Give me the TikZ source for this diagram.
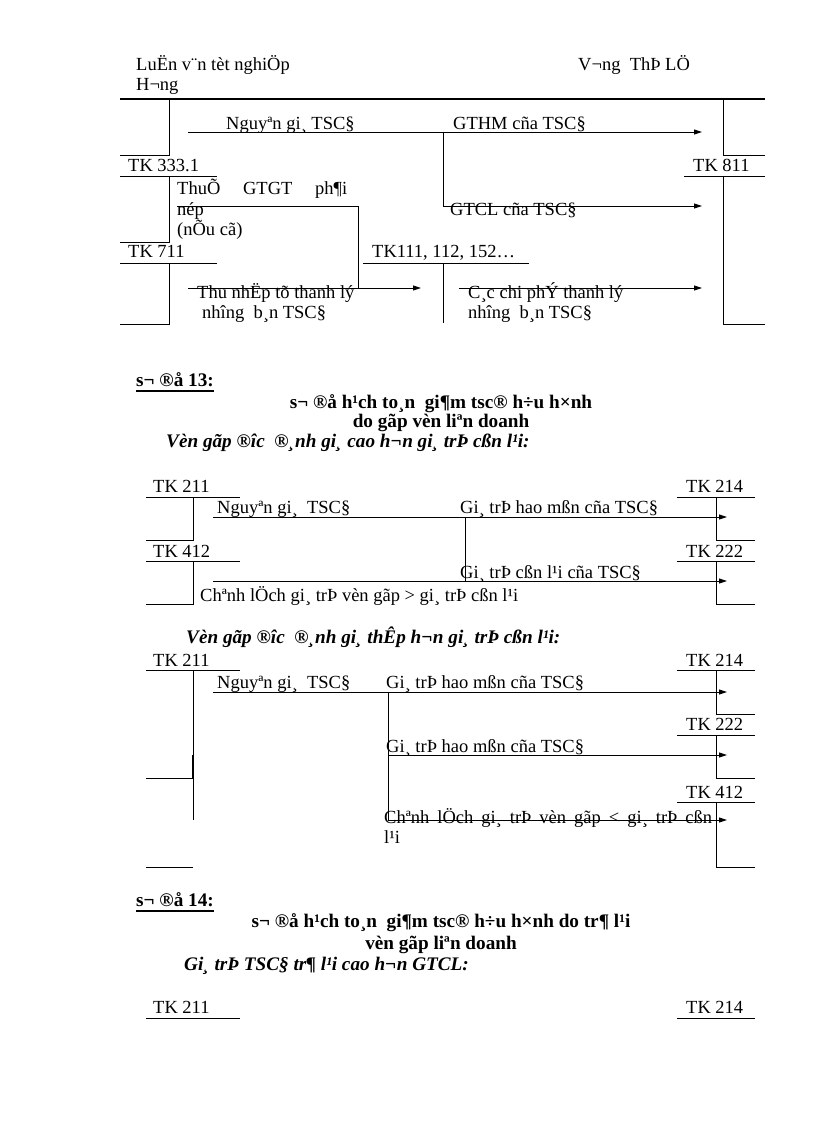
\documentclass[tikz,border=0pt]{standalone}
\usepackage{fontspec}
\setmainfont{Liberation Serif}
\usetikzlibrary{arrows.meta}
\begin{document}
\begin{tikzpicture}[x=1pt,y=-1pt,
  ln/.style={line width=0.9pt},
  arr/.style={line width=0.9pt,-{Triangle[length=8pt,width=5pt]}},
  txt/.style={anchor=base west,inner sep=0pt,font=\fontsize{18.5}{20.5}\selectfont},
  btxt/.style={anchor=base,inner sep=0pt,font=\fontsize{19.2}{21}\selectfont\bfseries},
  bitxt/.style={anchor=base west,inner sep=0pt,font=\fontsize{19.2}{21}\selectfont\bfseries\itshape},
  hdtxt/.style={anchor=base west,inner sep=0pt,font=\fontsize{19.2}{21}\selectfont\bfseries}]
\useasboundingbox[fill=white] (0,0) rectangle (816,1123);

% ---------- header ----------
\node[txt] (h1) at (136,71) {LuËn v¨n tèt nghiÖp};
\node[txt] (h2) at (578,71) {V¬ng\ \ ThÞ LÖ};
\node[txt] (h3) at (136,91) {H¬ng};
\coordinate (hl1) at (120,99); \coordinate (hl2) at (765,99);
\coordinate (hk1) at (135,99); \coordinate (hk2) at (217,99);
\coordinate (hk3) at (685,99); \coordinate (hk4) at (748,99);
\draw[line width=1.4pt] (hl1) -- (hl2);
\draw[line width=2.8pt] (hk1) -- (hk2);
\draw[line width=2.8pt] (hk3) -- (hk4);

% ---------- top diagram ----------
% left accounts
\coordinate (A0t) at (169,99); \coordinate (A0b) at (169,155); \coordinate (A0l) at (120,155);
\draw[ln] (A0t) -- (A0b) -- (A0l);
\node[txt] (k3331) at (128,172) {TK 333.1};
\coordinate (B1l) at (120,176); \coordinate (B1r) at (217,176);
\coordinate (B1t) at (169,176); \coordinate (B1b) at (169,242); \coordinate (B1e) at (120,242);
\draw[ln] (B1l) -- (B1r);
\draw[ln] (B1t) -- (B1b) -- (B1e);
\node[txt] (k711) at (128,258) {TK 711};
\coordinate (C1l) at (120,263); \coordinate (C1r) at (217,263);
\coordinate (C1t) at (169,263); \coordinate (C1b) at (169,324); \coordinate (C1e) at (120,324);
\draw[ln] (C1l) -- (C1r);
\draw[ln] (C1t) -- (C1b) -- (C1e);
% right account TK 811
\coordinate (R0t) at (723,99); \coordinate (R0b) at (723,155); \coordinate (R0r) at (765,155);
\draw[ln] (R0t) -- (R0b) -- (R0r);
\node[txt] (k811) at (693,172) {TK 811};
\coordinate (R1l) at (684,176); \coordinate (R1r) at (765,176);
\coordinate (R1t) at (723,176); \coordinate (R1b) at (723,324); \coordinate (R1e) at (765,324);
\draw[ln] (R1l) -- (R1r);
\draw[ln] (R1t) -- (R1b) -- (R1e);
% TK111
\node[txt] (k111) at (372,258) {TK111, 112, 152…};
\coordinate (M1l) at (363,263); \coordinate (M1r) at (529,263);
\coordinate (M1t) at (443,263); \coordinate (M1b) at (443,323);
\draw[ln] (M1l) -- (M1r);
\draw[ln] (M1t) -- (M1b);
% arrows
\coordinate (a1s) at (188,132); \coordinate (a1e) at (702,132);
\draw[arr] (a1s) -- (a1e);
\node[txt] (t1) at (226,130) {Nguyªn gi¸ TSC§};
\node[txt] (t2) at (453,130) {GTHM cña TSC§};
\coordinate (b1s) at (443,132); \coordinate (b1m) at (443,206); \coordinate (b1e) at (702,206);
\draw[arr] (b1s) -- (b1m) -- (b1e);
\node[txt] (t3) at (450,216) {GTCL cña TSC§};
\coordinate (x1s) at (177,206); \coordinate (x1m) at (358,206); \coordinate (x1e) at (358,288);
\draw[ln] (x1s) -- (x1m) -- (x1e);
\node[txt] (t4) at (177,195) {\makebox[170pt][s]{ThuÕ GTGT ph¶i}};
\node[txt] (t5) at (177,216) {nép};
\node[txt] (t6) at (177,236) {(nÕu cã)};
\coordinate (a3s) at (188,288); \coordinate (a3e) at (421,288);
\draw[arr] (a3s) -- (a3e);
\node[txt] (t7) at (197,298) {Thu nhËp tõ thanh lý};
\node[txt] (t8) at (202,318) {nhîng\ \ b¸n TSC§};
\coordinate (a4s) at (459,288); \coordinate (a4e) at (702,288);
\draw[arr] (a4s) -- (a4e);
\node[txt] (t9) at (468,298) {C¸c chi phÝ thanh lý};
\node[txt] (t10) at (468,318) {nhîng\ \ b¸n TSC§};

% ---------- so do 13 ----------
\node[hdtxt] (s13) at (136,386) {s¬ ®å 13:};
\draw[line width=1.6pt] ([yshift=-5pt]s13.base west) -- ([yshift=-5pt]s13.base east);
\node[btxt] (s13a) at (441,408) {s¬ ®å h¹ch to¸n\ \ gi¶m tsc® h÷u h×nh};
\node[btxt] (s13b) at (441,427) {do gãp vèn liªn doanh};
\node[bitxt] (s13c) at (166,447) {Vèn gãp ®îc\ \ ®¸nh gi¸ cao h¬n gi¸ trÞ cßn l¹i:};

% 13a accounts
\node[txt] (p211) at (153,492) {TK 211};
\coordinate (p211l) at (146,497); \coordinate (p211r) at (240,497);
\coordinate (p211t) at (193,497); \coordinate (p211b) at (193,540); \coordinate (p211e) at (146,540);
\draw[ln] (p211l) -- (p211r); \draw[ln] (p211t) -- (p211b) -- (p211e);
\node[txt] (p214) at (686,492) {TK 214};
\coordinate (p214l) at (677,497); \coordinate (p214r) at (755,497);
\coordinate (p214t) at (716,497); \coordinate (p214b) at (716,540); \coordinate (p214e) at (755,540);
\draw[ln] (p214l) -- (p214r); \draw[ln] (p214t) -- (p214b) -- (p214e);
\node[txt] (p412) at (153,557) {TK 412};
\coordinate (p412l) at (146,561); \coordinate (p412r) at (240,561);
\coordinate (p412t) at (193,561); \coordinate (p412b) at (193,604); \coordinate (p412e) at (146,604);
\draw[ln] (p412l) -- (p412r); \draw[ln] (p412t) -- (p412b) -- (p412e);
\node[txt] (p222) at (686,557) {TK 222};
\coordinate (p222l) at (677,561); \coordinate (p222r) at (755,561);
\coordinate (p222t) at (716,561); \coordinate (p222b) at (716,604); \coordinate (p222e) at (755,604);
\draw[ln] (p222l) -- (p222r); \draw[ln] (p222t) -- (p222b) -- (p222e);
% 13a arrows
\coordinate (pa1s) at (213,517); \coordinate (pa1e) at (727,517);
\draw[arr] (pa1s) -- (pa1e);
\node[txt] (pt1) at (217,513) {Nguyªn gi¸\ \ TSC§};
\node[txt] (pt2) at (460,513) {Gi¸ trÞ hao mßn cña TSC§};
\coordinate (pbs) at (465,517); \coordinate (pbe) at (465,581);
\draw[ln] (pbs) -- (pbe);
\coordinate (pa2s) at (213,581); \coordinate (pa2e) at (727,581);
\draw[arr] (pa2s) -- (pa2e);
\node[txt] (pt3) at (460,578) {Gi¸ trÞ cßn l¹i cña TSC§};
\node[txt] (pt4) at (200,601) {Chªnh lÖch gi¸ trÞ vèn gãp > gi¸ trÞ cßn l¹i};

% 13b
\node[bitxt] (s13d) at (186,643) {Vèn gãp ®îc\ \ ®¸nh gi¸ thÊp h¬n gi¸ trÞ cßn l¹i:};
\node[txt] (q211) at (153,666) {TK 211};
\coordinate (q211l) at (146,670); \coordinate (q211r) at (240,670);
\coordinate (q211t) at (193,670); \coordinate (q211b) at (193,820);
\coordinate (q211m1) at (193,755); \coordinate (q211m2) at (193,778); \coordinate (q211e) at (146,778);
\coordinate (q211f) at (146,867); \coordinate (q211g) at (193,867);
\draw[ln] (q211l) -- (q211r); \draw[ln] (q211t) -- (q211b);
\draw[line width=1.8pt] (q211m1) -- (q211m2);
\draw[ln] (q211m2) -- (q211e);
\draw[ln] (q211f) -- (q211g);
\node[txt] (q214) at (686,666) {TK 214};
\coordinate (q214l) at (677,670); \coordinate (q214r) at (755,670);
\coordinate (q214t) at (716,670); \coordinate (q214b) at (716,714); \coordinate (q214e) at (755,714);
\draw[ln] (q214l) -- (q214r); \draw[ln] (q214t) -- (q214b) -- (q214e);
\node[txt] (q222) at (686,730) {TK 222};
\coordinate (q222l) at (677,735); \coordinate (q222r) at (755,735);
\coordinate (q222t) at (716,735); \coordinate (q222b) at (716,778); \coordinate (q222e) at (755,778);
\draw[ln] (q222l) -- (q222r); \draw[ln] (q222t) -- (q222b) -- (q222e);
\node[txt] (q412) at (686,798) {TK 412};
\coordinate (q412l) at (677,802); \coordinate (q412r) at (755,802);
\coordinate (q412t) at (716,802); \coordinate (q412b) at (716,867); \coordinate (q412e) at (755,867);
\draw[ln] (q412l) -- (q412r); \draw[ln] (q412t) -- (q412b) -- (q412e);
% 13b arrows
\coordinate (qa1s) at (213,692); \coordinate (qa1e) at (727,692);
\draw[arr] (qa1s) -- (qa1e);
\node[txt] (qt1) at (217,688) {Nguyªn gi¸\ \ TSC§};
\node[txt] (qt2) at (386,688) {Gi¸ trÞ hao mßn cña TSC§};
\coordinate (qbs) at (388,692); \coordinate (qbe) at (388,820);
\draw[ln] (qbs) -- (qbe);
\coordinate (qa2s) at (388,755); \coordinate (qa2e) at (727,755);
\draw[arr] (qa2s) -- (qa2e);
\node[txt] (qt3) at (386,752) {Gi¸ trÞ hao mßn cña TSC§};
\coordinate (qa3s) at (388,820); \coordinate (qa3e) at (727,820);
\draw[arr] (qa3s) -- (qa3e);
\node[txt] (qt4) at (384,823) {\makebox[328pt][s]{Chªnh lÖch gi¸ trÞ vèn gãp < gi¸ trÞ cßn}};
\node[txt] (qt5) at (384,843) {l¹i};

% ---------- so do 14 ----------
\node[hdtxt] (s14) at (136,906) {s¬ ®å 14:};
\draw[line width=1.6pt] ([yshift=-5pt]s14.base west) -- ([yshift=-5pt]s14.base east);
\node[btxt] (s14a) at (441,927) {s¬ ®å h¹ch to¸n\ \ gi¶m tsc® h÷u h×nh do tr¶ l¹i};
\node[btxt] (s14b) at (441,949) {vèn gãp liªn doanh};
\node[bitxt] (s14c) at (184,970) {Gi¸ trÞ TSC§ tr¶ l¹i cao h¬n GTCL:};
\node[txt] (r211) at (153,1013) {TK 211};
\coordinate (r211l) at (146,1018); \coordinate (r211r) at (240,1018);
\draw[ln] (r211l) -- (r211r);
\node[txt] (r214) at (686,1013) {TK 214};
\coordinate (r214l) at (677,1018); \coordinate (r214r) at (755,1018);
\draw[ln] (r214l) -- (r214r);
\end{tikzpicture}
\end{document}
